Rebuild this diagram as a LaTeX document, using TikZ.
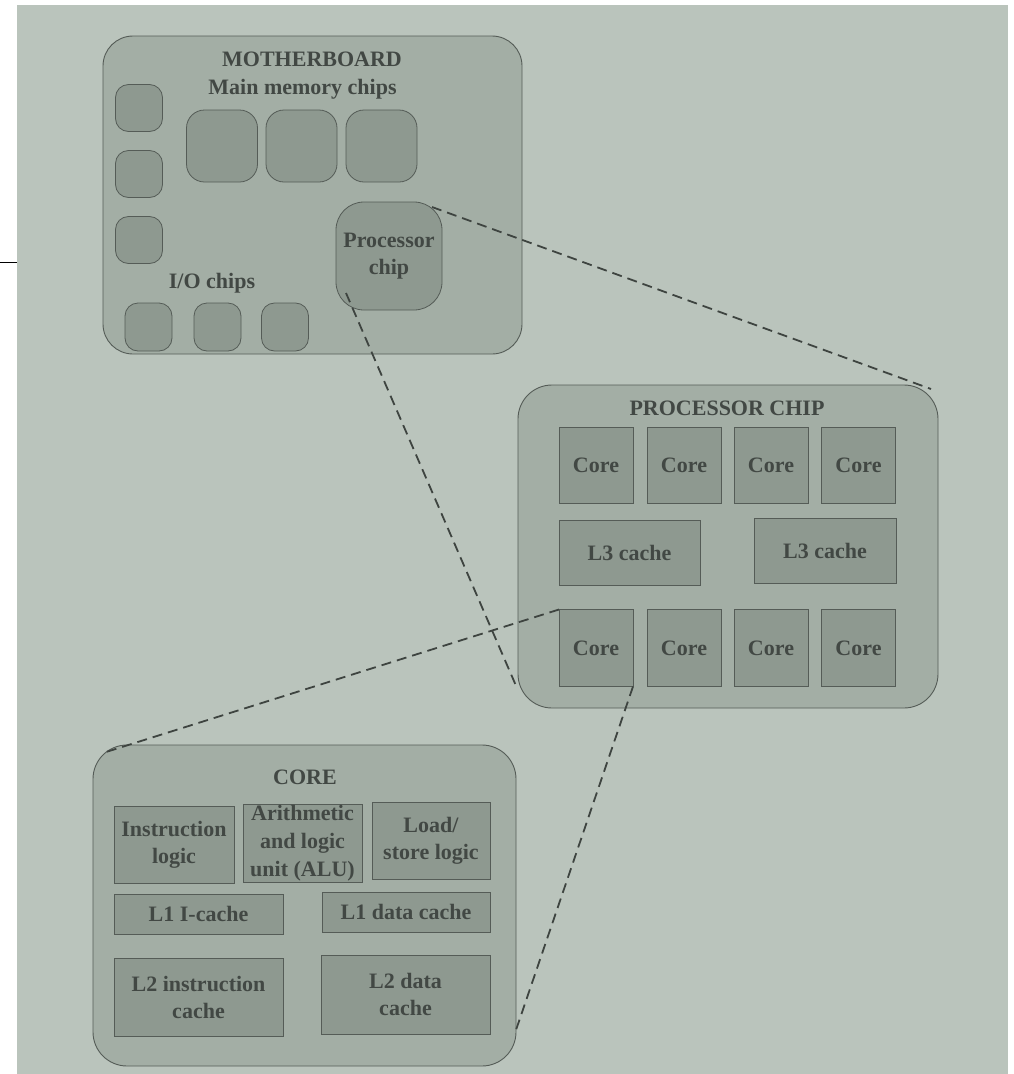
\documentclass[tikz,border=0pt]{standalone}
\usepackage{fontspec}
\setmainfont{Liberation Serif}
\usetikzlibrary{calc}

\definecolor{pagec}{RGB}{186,196,188}
\definecolor{boardc}{RGB}{163,174,165}
\definecolor{chipc}{RGB}{142,153,144}
\definecolor{linec}{RGB}{85,92,87}
\definecolor{txtc}{RGB}{66,72,68}
\definecolor{dashc}{RGB}{62,68,64}

\tikzset{
  lbl/.style={text=txtc, font=\bfseries\fontsize{22}{27}\selectfont, align=center, inner sep=0pt},
  bigbox/.style={draw=linec, line width=0.9pt, fill=boardc, rounded corners=34pt,
                 inner sep=0pt, outer sep=0pt},
  rchip/.style={draw=linec, line width=0.8pt, fill=chipc, rounded corners=#1,
                inner sep=0pt, outer sep=0pt},
  rchip/.default=13pt,
  unitbox/.style={draw=linec, line width=0.8pt, fill=chipc, inner sep=0pt, outer sep=0pt,
                  text=txtc, font=\bfseries\fontsize{22}{27}\selectfont, align=center},
  zoomline/.style={draw=dashc, line width=1.8pt, dash pattern=on 10pt off 6pt},
  sz/.style 2 args={minimum width=#1pt, minimum height=#2pt}
}

\begin{document}
\begin{tikzpicture}[x=1pt,y=-1pt]
  \useasboundingbox (0,0) rectangle (1014,1074);
  % page paper
  \fill[white] (0,0) rectangle (1014,1074);
  \fill[pagec] (17,5) rectangle (1008,1074);
  \draw[black, line width=0.8pt] (0,262.5) -- (17,262.5);

  % ---------------- Motherboard ----------------
  \node[bigbox, rounded corners=30pt, sz={419}{318}] (mb) at (312.5,195) {};
  \node[lbl] (mbt) at (312,59) {MOTHERBOARD};
  \node[lbl] (mmt) at (302.5,89) {Main memory chips};

  \node[rchip, sz={47}{47}] (lc1) at (139,108) {};
  \node[rchip, sz={47}{47}] (lc2) at (139,174) {};
  \node[rchip, sz={47}{47}] (lc3) at (139,240) {};

  \node[rchip=18pt, sz={71}{72}] (mm1) at (222,146) {};
  \node[rchip=18pt, sz={71}{72}] (mm2) at (301.5,146) {};
  \node[rchip=18pt, sz={71}{72}] (mm3) at (381.5,146) {};

  \node[rchip=28pt, sz={106}{108}] (pc) at (389,256) {};
  \node[lbl] (pct) at (389,256) {Processor\\chip};

  \node[lbl] (iot) at (212,283) {I/O chips};
  \node[rchip, sz={47}{48}] (io1) at (148.5,327) {};
  \node[rchip, sz={47}{48}] (io2) at (217.5,327) {};
  \node[rchip, sz={47}{48}] (io3) at (285,327) {};

  % ---------------- Processor chip ----------------
  \node[bigbox, sz={420}{323}] (pbox) at (728,546.5) {};
  \node[lbl] (pbt) at (727,408) {PROCESSOR CHIP};

  \foreach \i/\x in {1/596,2/684,3/771,4/858.5}{
    \node[unitbox, sz={74}{76}] (ct\i) at (\x,465) {Core};
    \node[unitbox, sz={74}{77}] (cb\i) at (\x,648) {Core};
  }
  \node[unitbox, sz={141}{65}] (l3a) at (629.5,552.5) {L3 cache};
  \node[unitbox, sz={142}{65}] (l3b) at (825,551) {L3 cache};

  % ---------------- Core ----------------
  \node[bigbox, sz={423}{321}] (cbox) at (304.5,905.5) {};
  \node[lbl] (cbt) at (305,777) {CORE};

  \node[unitbox, sz={120}{77}] (il) at (174,844.5) {Instruction\\logic};
  \node[unitbox, sz={119}{78}, font=\bfseries\fontsize{22}{28}\selectfont] (alu) at (302.5,843) {Arithmetic\\and logic\\unit (ALU)};
  \node[unitbox, sz={118}{77}] (ls) at (431,840.5) {Load/\\store logic};
  \node[unitbox, sz={169}{40}] (l1i) at (198.5,914) {L1 I-cache};
  \node[unitbox, sz={168}{40}] (l1d) at (406,912) {L1 data cache};
  \node[unitbox, sz={169}{78}] (l2i) at (198.5,997) {L2 instruction\\cache};
  \node[unitbox, sz={169}{79}] (l2d) at (405.5,994.5) {L2 data\\cache};

  % ---------------- Zoom connectors ----------------
  \coordinate (pcNE) at (432,207);
  \coordinate (pcSW) at (346,293);
  \coordinate (pbNE) at (931,389);
  \coordinate (pbSW) at (517,688);
  \coordinate (cbNW) at (106,752);
  \coordinate (cbSE) at (516,1030);

  \draw[zoomline] (pcNE) -- (pbNE);
  \draw[zoomline] (pcSW) -- (pbSW);
  \draw[zoomline] (cb1.north west) -- (cbNW);
  \draw[zoomline] (cb1.south east) -- (cbSE);
\end{tikzpicture}
\end{document}
